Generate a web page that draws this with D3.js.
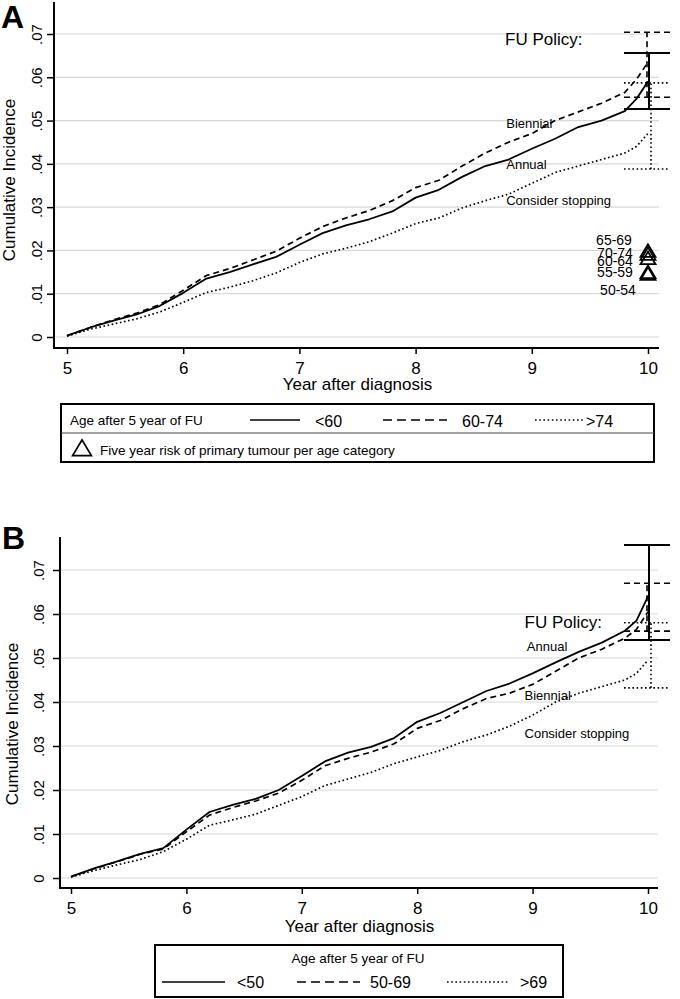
<!DOCTYPE html>
<html><head><meta charset="utf-8">
<script src="https://cdn.jsdelivr.net/npm/d3@7"></script>
<style>
body{margin:0;background:#fff}
svg{display:block}
text{font-family:"Liberation Sans",Arial,Helvetica,sans-serif;fill:#000}
</style></head>
<body><svg id="c" width="680" height="999"></svg>
<script>
// ---------- data ----------
const years = [5.0,5.2,5.4,5.6,5.8,6.0,6.2,6.4,6.6,6.8,7.0,7.2,7.4,7.6,7.8,8.0,8.2,8.4,8.6,8.8,9.0,9.2,9.4,9.6,9.8,9.9,10.0];

// Panel A: age groups <60, 60-74, >74
const aUnder60 = [0.0003,0.0022,0.0038,0.0052,0.0072,0.0102,0.0135,0.0150,0.0168,0.0185,0.0213,0.0240,0.0258,0.0272,0.0290,0.0322,0.0340,0.0370,0.0395,0.0410,0.0435,0.0458,0.0485,0.0500,0.0522,0.0550,0.0590];
const a60to74  = [0.0003,0.0022,0.0040,0.0055,0.0075,0.0108,0.0142,0.0158,0.0178,0.0198,0.0228,0.0255,0.0275,0.0292,0.0315,0.0345,0.0362,0.0395,0.0425,0.0450,0.0470,0.0500,0.0520,0.0540,0.0565,0.0595,0.0635];
const aOver74  = [0.0002,0.0018,0.0030,0.0042,0.0058,0.0080,0.0103,0.0115,0.0130,0.0148,0.0172,0.0192,0.0205,0.0220,0.0240,0.0262,0.0275,0.0298,0.0315,0.0330,0.0355,0.0380,0.0395,0.0410,0.0425,0.0440,0.0470];
const aCiLow  = [0.0527,0.0554,0.0388];
const aCiHigh = [0.0656,0.0704,0.0587];
const aLegend = ["<60","60-74",">74"];

// Panel B: age groups <50, 50-69, >69
const bUnder50 = [0.0003,0.0022,0.0038,0.0055,0.0068,0.0110,0.0150,0.0166,0.0180,0.0200,0.0232,0.0265,0.0285,0.0298,0.0318,0.0355,0.0375,0.0400,0.0425,0.0442,0.0465,0.0490,0.0514,0.0535,0.0562,0.0585,0.0640];
const b50to69  = [0.0003,0.0021,0.0037,0.0054,0.0066,0.0105,0.0143,0.0160,0.0175,0.0193,0.0222,0.0255,0.0272,0.0286,0.0305,0.0340,0.0358,0.0385,0.0408,0.0420,0.0440,0.0470,0.0500,0.0520,0.0545,0.0565,0.0605];
const bOver69  = [0.0002,0.0017,0.0030,0.0042,0.0060,0.0088,0.0120,0.0132,0.0145,0.0165,0.0185,0.0210,0.0225,0.0240,0.0260,0.0275,0.0290,0.0310,0.0325,0.0345,0.0370,0.0400,0.0420,0.0435,0.0450,0.0465,0.0495];
const bCiLow  = [0.0541,0.0561,0.0432];
const bCiHigh = [0.0757,0.0670,0.0580];
const bLegend = ["<50","50-69",">69"];

// Five-year risk of primary tumour per age category (panel A, at year 10)
const triAges = ["65-69","70-74","60-64","55-59","50-54"];
const triRisk = [0.0199,0.0192,0.0182,0.0150,0.0146];

// FU policy annotations: [year, value]
const aPolicy = ["Biennial","Annual","Consider stopping"];
const aPolicyAt = [[8.78,0.0483],[8.78,0.0388],[8.78,0.0305]];
const aPolicyTitleAt = [8.77,0.0674];
const bPolicy = ["Annual","Biennial","Consider stopping"];
const bPolicyAt = [[8.95,0.0516],[8.93,0.0405],[8.93,0.0318]];
const bPolicyTitleAt = [8.93,0.0568];

const xTicks = [5,6,7,8,9,10];
const yTicks = [0,0.01,0.02,0.03,0.04,0.05,0.06,0.07];
const yTickLabels = ["0",".01",".02",".03",".04",".05",".06",".07"];

// ---------- drawing ----------
const svg = d3.select("#c");
const styles = [
  {w:1.8, dash:null},
  {w:1.7, dash:"6,4"},
  {w:1.7, dash:"1.6,2.6"}
];

function panel(o){
  const g = svg.append("g");
  const x = d3.scaleLinear().domain([5,10]).range([o.x5,o.x10]);
  const y = d3.scaleLinear().domain([0,0.07]).range([o.y0,o.y07]);

  g.append("g").selectAll("line").data(yTicks).join("line")
    .attr("x1",o.ax+1).attr("x2",o.gridEnd)
    .attr("y1",d=>y(d)).attr("y2",d=>y(d))
    .attr("stroke","#d8d8d8").attr("stroke-width",1.2);

  const ya = g.append("g").attr("transform",`translate(${o.ax},0)`)
    .call(d3.axisLeft(y).tickValues(yTicks).tickSize(7).tickSizeOuter(0)
      .tickFormat((d,i)=>yTickLabels[i]));
  ya.select(".domain").remove();
  ya.selectAll(".tick line").attr("stroke","#000").attr("stroke-width",1.5);
  ya.selectAll(".tick text")
    .attr("x",null).attr("dy",null)
    .attr("transform",`translate(${-o.ylabOff},0) rotate(-90)`)
    .attr("text-anchor","middle").attr("font-size",15)
    .style("font-family","'Liberation Sans',Arial,sans-serif");

  const xa = g.append("g").attr("transform",`translate(0,${o.ay})`)
    .call(d3.axisBottom(x).tickValues(xTicks).tickSize(6).tickSizeOuter(0).tickFormat(d3.format("d")));
  xa.select(".domain").remove();
  xa.selectAll(".tick line").attr("stroke","#000").attr("stroke-width",1.5);
  xa.selectAll(".tick text").attr("y",null).attr("dy",null)
    .attr("transform","translate(0,26)")
    .attr("font-size",17).style("font-family","'Liberation Sans',Arial,sans-serif");

  g.append("line").attr("x1",o.ax).attr("x2",o.ax).attr("y1",o.axTop).attr("y2",o.ay+1)
    .attr("stroke","#000").attr("stroke-width",2);
  g.append("line").attr("x1",o.ax-1).attr("x2",o.axRight).attr("y1",o.ay).attr("y2",o.ay)
    .attr("stroke","#000").attr("stroke-width",2);

  g.append("text").attr("x",(o.x5+o.x10)/2).attr("y",o.xTitleY)
    .attr("text-anchor","middle").attr("font-size",17).text("Year after diagnosis");
  g.append("text").attr("transform",`translate(${o.yTitleX},${o.yTitleMid}) rotate(-90)`)
    .attr("text-anchor","middle").attr("font-size",17).text("Cumulative Incidence");
  g.append("text").attr("x",o.letterX).attr("y",o.letterY)
    .attr("font-size",32).attr("font-weight","bold").text(o.letter);

  const line = d3.line().x((d,i)=>x(years[i])).y(d=>y(d)).curve(d3.curveLinear);
  o.series.forEach((s,i)=>{
    g.append("path").attr("d",line(s)).attr("fill","none").attr("stroke","#000")
      .attr("stroke-width",styles[i].w).attr("stroke-dasharray",styles[i].dash)
      .attr("stroke-linejoin","round");
  });

  const offs = [1,-1,3];
  o.ciLow.forEach((lo,i)=>{
    const hi = o.ciHigh[i];
    const cx = x(10)+offs[i];
    const st = styles[i];
    const eg = g.append("g").attr("stroke","#000").attr("stroke-width",st.dash?1.6:2)
      .attr("stroke-dasharray",st.dash);
    eg.append("line").attr("x1",cx).attr("x2",cx).attr("y1",y(lo)).attr("y2",y(hi));
    [lo,hi].forEach(v=>eg.append("line").attr("x1",x(10)-24).attr("x2",x(10)+22)
      .attr("y1",y(v)).attr("y2",y(v)));
  });

  g.append("text").attr("x",x(o.policyTitleAt[0])).attr("y",y(o.policyTitleAt[1]))
    .attr("font-size",17).text("FU Policy:");
  o.policy.forEach((p,i)=>{
    g.append("text").attr("x",x(o.policyAt[i][0])).attr("y",y(o.policyAt[i][1]))
      .attr("font-size",13).text(p);
  });
  return {x,y,g};
}

const A = panel({
  letter:"A", letterX:1, letterY:28,
  x5:67, x10:648, y0:337, y07:34,
  ax:54, ay:348, axTop:2, axRight:659, gridEnd:659,
  ylabOff:12, yTitleX:15, yTitleMid:180, xTitleY:390,
  series:[aUnder60,a60to74,aOver74], ciLow:aCiLow, ciHigh:aCiHigh,
  policy:aPolicy, policyAt:aPolicyAt, policyTitleAt:aPolicyTitleAt
});

const B = panel({
  letter:"B", letterX:2, letterY:549,
  x5:71, x10:648, y0:878, y07:570,
  ax:60, ay:888, axTop:537, axRight:658, gridEnd:658,
  ylabOff:16, yTitleX:18, yTitleMid:724, xTitleY:932,
  series:[bUnder50,b50to69,bOver69], ciLow:bCiLow, ciHigh:bCiHigh,
  policy:bPolicy, policyAt:bPolicyAt, policyTitleAt:bPolicyTitleAt
});

// triangles in A
const triPath = "M0,-6.5L7.5,6L-7.5,6Z";
const triLabOff = [[-34,-6],[-33,4],[-33,8],[-33,5],[-30,21]];
triRisk.forEach((v,i)=>{
  const cx = A.x(10), cy = A.y(v);
  A.g.append("path").attr("d",triPath).attr("transform",`translate(${cx},${cy})`)
    .attr("fill","none").attr("stroke","#000").attr("stroke-width",1.8);
  A.g.append("text").attr("x",cx+triLabOff[i][0]).attr("y",cy+triLabOff[i][1])
    .attr("text-anchor","middle").attr("font-size",14).text(triAges[i]);
});

// legend A
const lgA = svg.append("g");
lgA.append("rect").attr("x",61).attr("y",404).attr("width",593).attr("height",58)
  .attr("fill","none").attr("stroke","#000").attr("stroke-width",2);
lgA.append("line").attr("x1",61).attr("x2",654).attr("y1",433).attr("y2",433)
  .attr("stroke","#444").attr("stroke-width",1);
lgA.append("text").attr("x",70).attr("y",425).attr("font-size",13.5).text("Age after 5 year of FU");
const lgAItems = [[250,300,315],[383,447,462],[535,585,586]];
aLegend.forEach((t,i)=>{
  const it = lgAItems[i];
  lgA.append("line").attr("x1",it[0]).attr("x2",it[1]).attr("y1",420).attr("y2",420)
    .attr("stroke","#000").attr("stroke-width",1.6)
    .attr("stroke-dasharray",i===1?"9,5":(i===2?"1.6,2.6":null));
  lgA.append("text").attr("x",it[2]).attr("y",427).attr("font-size",16).text(t);
});
lgA.append("path").attr("d",triPath).attr("transform","translate(82,448) scale(1.25)")
  .attr("fill","none").attr("stroke","#000").attr("stroke-width",1.4);
lgA.append("text").attr("x",100).attr("y",455).attr("font-size",13.5)
  .text("Five year risk of primary tumour per age category");

// legend B
const lgB = svg.append("g");
lgB.append("rect").attr("x",155).attr("y",945).attr("width",408).attr("height",52)
  .attr("fill","none").attr("stroke","#000").attr("stroke-width",2);
lgB.append("text").attr("x",358).attr("y",963).attr("text-anchor","middle").attr("font-size",13.5)
  .text("Age after 5 year of FU");
const lgBItems = [[162,225,237],[297,360,370],[447,508,520]];
bLegend.forEach((t,i)=>{
  const it = lgBItems[i];
  lgB.append("line").attr("x1",it[0]).attr("x2",it[1]).attr("y1",982).attr("y2",982)
    .attr("stroke","#000").attr("stroke-width",1.6)
    .attr("stroke-dasharray",i===1?"9,5":(i===2?"1.6,2.6":null));
  lgB.append("text").attr("x",it[2]).attr("y",988).attr("font-size",16).text(t);
});
</script>
</body></html>
